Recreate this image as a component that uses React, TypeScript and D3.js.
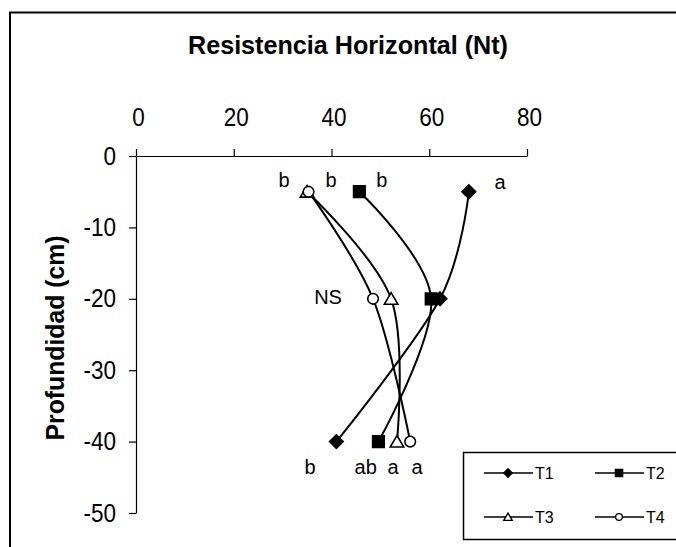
import React, { useRef, useEffect } from 'react';
import * as d3 from 'd3';

// depths sampled (cm)
const depths = [-5, -20, -40];

// horizontal resistance (Nt) per treatment
const t1 = [68.1, 62.2, 41.0];
const t2 = [45.7, 60.4, 49.6];
const t3 = [35.0, 52.2, 53.4];
const t4 = [35.3, 48.5, 56.1];

const seriesNames = ['T1', 'T2', 'T3', 'T4'];
const seriesMarkers = ['diamond', 'square', 'triangle', 'circle'];

const xTicks = [0, 20, 40, 60, 80];
const yTicks = [0, -10, -20, -30, -40, -50];

// significance letters: [text, value, depth]
const letters: [string, number, number][] = [
  ['b', 30.3, -3.4],
  ['b', 39.9, -3.4],
  ['b', 50.3, -3.4],
  ['a', 74.5, -3.6],
  ['NS', 39.3, -19.7],
  ['b', 35.6, -43.6],
  ['ab', 47.0, -43.6],
  ['a', 52.6, -43.6],
  ['a', 57.5, -43.6],
];

const FONT = '"Liberation Sans", Arial, sans-serif';

function markerPath(kind: string, s: number) {
  // s = half size
  if (kind === 'diamond') return `M0,${-s}L${s},0L0,${s}L${-s},0Z`;
  if (kind === 'square') return `M${-s * 0.85},${-s * 0.85}h${s * 1.7}v${s * 1.7}h${-s * 1.7}Z`;
  if (kind === 'triangle') return `M0,${-s * 0.9}L${s},${s * 0.8}L${-s},${s * 0.8}Z`;
  const r = s * 0.78;
  return `M${r},0A${r},${r} 0 1,1 ${-r},0A${r},${r} 0 1,1 ${r},0Z`;
}

export default function App() {
  const ref = useRef<SVGSVGElement>(null);

  useEffect(() => {
    const W = 676, H = 547;
    const svg = d3.select(ref.current);
    svg.selectAll('*').remove();
    svg.attr('width', W).attr('height', H);

    // outer chart frame (continues past the right/bottom edge)
    svg.append('rect')
      .attr('x', 10).attr('y', 12.5)
      .attr('width', 720).attr('height', 600)
      .attr('fill', '#fff').attr('stroke', '#000').attr('stroke-width', 2);

    const x = d3.scaleLinear().domain([0, 80]).range([136, 527]);
    const y = d3.scaleLinear().domain([0, -50]).range([156, 513]);

    // title (the source renders its text slightly condensed)
    svg.append('text')
      .attr('x', 348).attr('y', 54)
      .attr('text-anchor', 'middle')
      .attr('font-family', FONT).attr('font-weight', 'bold').attr('font-size', 26)
      .attr('textLength', 320).attr('lengthAdjust', 'spacingAndGlyphs')
      .text('Resistencia Horizontal (Nt)');

    // x axis on top
    const gx = svg.append('g')
      .attr('transform', `translate(0,${y(0)})`)
      .call(d3.axisTop(x).tickValues(xTicks).tickFormat(d => String(d)).tickSize(7).tickSizeOuter(0).tickPadding(23));
    gx.select('.domain').attr('stroke-width', 1.2);
    gx.selectAll('line').attr('stroke-width', 1.2);
    gx.selectAll('text').attr('font-family', FONT).attr('font-size', 25).attr('fill', '#000')
      .attr('transform', 'translate(2,0) scale(0.9,1)');

    // y axis
    const gy = svg.append('g')
      .attr('transform', `translate(${x(0)},0)`)
      .call(d3.axisLeft(y).tickValues(yTicks).tickFormat(d => String(d)).tickSize(7).tickSizeOuter(0).tickPadding(13));
    gy.select('.domain').attr('stroke-width', 1.2);
    gy.selectAll('line').attr('stroke-width', 1.2);
    gy.selectAll('text').attr('font-family', FONT).attr('font-size', 25).attr('fill', '#000')
      .attr('transform', 'translate(-2,0) scale(0.9,1)');

    svg.append('text')
      .attr('transform', `translate(64,338) rotate(-90)`)
      .attr('text-anchor', 'middle')
      .attr('font-family', FONT).attr('font-weight', 'bold').attr('font-size', 25)
      .attr('textLength', 205).attr('lengthAdjust', 'spacingAndGlyphs')
      .text('Profundidad (cm)');

    const all = [t1, t2, t3, t4];
    const line = d3.line<number>()
      .x(d => x(d))
      .y((_, i) => y(depths[i]))
      .curve(d3.curveCatmullRom.alpha(0));

    all.forEach(vals => {
      svg.append('path')
        .attr('d', line(vals))
        .attr('fill', 'none').attr('stroke', '#000').attr('stroke-width', 2);
    });

    all.forEach((vals, si) => {
      const kind = seriesMarkers[si];
      const filled = kind === 'diamond' || kind === 'square';
      vals.forEach((v, i) => {
        svg.append('path')
          .attr('transform', `translate(${x(v)},${y(depths[i])})`)
          .attr('d', markerPath(kind, 6.8))
          .attr('fill', filled ? '#000' : '#fff')
          .attr('stroke', '#000').attr('stroke-width', 1.6);
      });
    });

    // letters
    svg.append('g').selectAll('text').data(letters).join('text')
      .attr('x', d => x(d[1]))
      .attr('y', d => y(d[2]))
      .attr('dy', '0.35em')
      .attr('text-anchor', 'middle')
      .attr('font-family', FONT).attr('font-size', 20)
      .text(d => d[0]);

    // legend
    const lg = svg.append('g');
    lg.append('rect')
      .attr('x', 463.5).attr('y', 452.5).attr('width', 240).attr('height', 87)
      .attr('fill', '#fff').attr('stroke', '#000').attr('stroke-width', 1.5);
    seriesNames.forEach((name, i) => {
      const cx = 484 + (i % 2) * 111;
      const cy = 473 + Math.floor(i / 2) * 44;
      lg.append('line')
        .attr('x1', cx).attr('x2', cx + 49).attr('y1', cy).attr('y2', cy)
        .attr('stroke', '#000').attr('stroke-width', 1.5);
      const kind = seriesMarkers[i];
      const filled = kind === 'diamond' || kind === 'square';
      lg.append('path')
        .attr('transform', `translate(${cx + 24},${cy})`)
        .attr('d', markerPath(kind, 4.3))
        .attr('fill', filled ? '#000' : '#fff')
        .attr('stroke', '#000').attr('stroke-width', 1.3);
      lg.append('text')
        .attr('x', cx + 51).attr('y', cy).attr('dy', '0.36em')
        .attr('font-family', FONT).attr('font-size', 16)
        .text(name);
    });
  }, []);

  return (
    <svg ref={ref} style={{ position: 'absolute', left: 0, top: 0, background: '#fff' }} />
  );
}
